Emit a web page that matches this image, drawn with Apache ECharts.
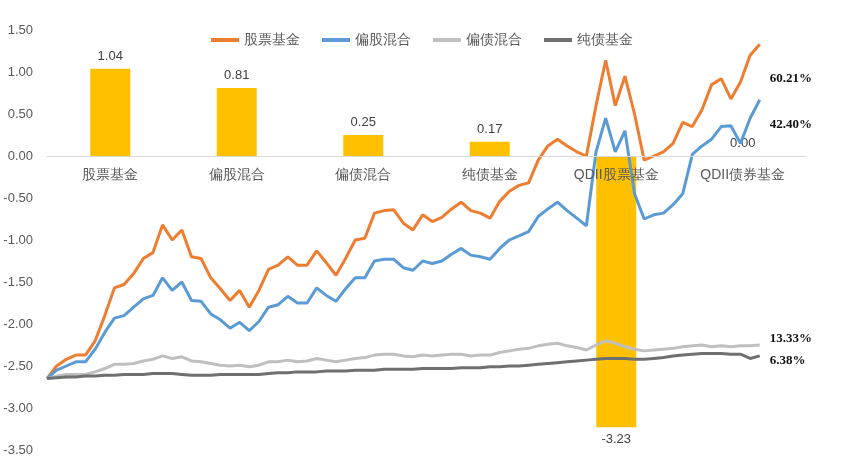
<!DOCTYPE html>
<html>
<head>
<meta charset="UTF-8">
<script src="https://cdn.jsdelivr.net/npm/echarts@6/dist/echarts.min.js"></script>
</head>
<body style="margin:0">
<div id="main" style="width:844px;height:474px;"></div>
<script>
var categories = ['股票基金', '偏股混合', '偏债混合', '纯债基金', 'QDII股票基金', 'QDII债券基金'];
var barValues = [1.04, 0.81, 0.25, 0.17, -3.23, 0.00];

var lineNames = ['股票基金', '偏股混合', '偏债混合', '纯债基金'];
var endLabels = ['60.21%', '42.40%', '13.33%', '6.38%'];
var stock = [-2.65,-2.5,-2.42,-2.37,-2.37,-2.2,-1.9,-1.57,-1.53,-1.4,
  -1.22,-1.15,-0.82,-1.0,-0.88,-1.2,-1.22,-1.45,-1.58,-1.72,
  -1.6,-1.8,-1.6,-1.35,-1.3,-1.2,-1.3,-1.3,-1.13,-1.27,
  -1.42,-1.22,-1.0,-0.98,-0.68,-0.65,-0.64,-0.8,-0.88,-0.7,
  -0.78,-0.73,-0.63,-0.55,-0.65,-0.68,-0.74,-0.54,-0.42,-0.35,
  -0.32,-0.05,0.12,0.2,0.12,0.05,0.0,0.6,1.14,0.6,
  0.95,0.5,-0.05,0.0,0.05,0.15,0.4,0.35,0.55,0.85,
  0.92,0.68,0.88,1.2,1.33];
var equityMix = [-2.65,-2.55,-2.5,-2.45,-2.45,-2.3,-2.1,-1.93,-1.9,-1.8,
  -1.7,-1.66,-1.45,-1.6,-1.5,-1.72,-1.73,-1.88,-1.95,-2.05,
  -1.98,-2.08,-1.97,-1.8,-1.77,-1.67,-1.75,-1.75,-1.57,-1.66,
  -1.73,-1.58,-1.45,-1.45,-1.25,-1.23,-1.23,-1.33,-1.36,-1.25,
  -1.28,-1.25,-1.17,-1.1,-1.18,-1.2,-1.23,-1.1,-1.0,-0.95,
  -0.9,-0.72,-0.63,-0.55,-0.65,-0.74,-0.83,0.05,0.45,0.05,
  0.3,-0.45,-0.75,-0.7,-0.68,-0.58,-0.45,0.02,0.12,0.2,
  0.35,0.36,0.15,0.45,0.67];
var bondMix = [-2.65,-2.62,-2.6,-2.6,-2.6,-2.57,-2.53,-2.48,-2.48,-2.47,
  -2.44,-2.42,-2.38,-2.41,-2.39,-2.44,-2.45,-2.47,-2.49,-2.5,
  -2.49,-2.51,-2.49,-2.45,-2.45,-2.43,-2.45,-2.44,-2.41,-2.43,
  -2.45,-2.43,-2.41,-2.4,-2.37,-2.36,-2.36,-2.38,-2.39,-2.37,
  -2.38,-2.37,-2.36,-2.36,-2.38,-2.37,-2.37,-2.34,-2.32,-2.3,
  -2.29,-2.26,-2.24,-2.23,-2.26,-2.28,-2.31,-2.25,-2.2,-2.23,
  -2.27,-2.3,-2.32,-2.31,-2.3,-2.29,-2.27,-2.26,-2.25,-2.27,
  -2.26,-2.27,-2.26,-2.26,-2.25];
var pureBond = [-2.65,-2.64,-2.63,-2.63,-2.62,-2.62,-2.61,-2.61,-2.6,-2.6,
  -2.6,-2.59,-2.59,-2.59,-2.6,-2.61,-2.61,-2.61,-2.6,-2.6,
  -2.6,-2.6,-2.6,-2.59,-2.58,-2.58,-2.57,-2.57,-2.57,-2.56,
  -2.56,-2.56,-2.55,-2.55,-2.55,-2.54,-2.54,-2.54,-2.54,-2.53,
  -2.53,-2.53,-2.53,-2.52,-2.52,-2.52,-2.51,-2.51,-2.5,-2.5,
  -2.49,-2.48,-2.47,-2.46,-2.45,-2.44,-2.43,-2.42,-2.41,-2.41,
  -2.41,-2.42,-2.42,-2.41,-2.4,-2.38,-2.37,-2.36,-2.35,-2.35,
  -2.35,-2.36,-2.36,-2.41,-2.38];

var lineData = [stock, equityMix, bondMix, pureBond];
var lineColors = ['#ED7D31', '#5B9BD5', '#BFBFBF', '#6F6F6F'];
var labelOffsets = [[0, 34], [0, 25], [0, -6], [0, 5]];

var myChart = echarts.init(document.getElementById('main'));

var series = [{
    type: 'bar',
    xAxisIndex: 0,
    data: barValues.map(function (v) {
        return { value: v, label: { position: v < 0 ? 'bottom' : 'top' } };
    }),
    barWidth: 40,
    itemStyle: { color: '#FFC000' },
    label: {
        show: true,
        color: '#404040',
        fontSize: 13,
        distance: 6,
        formatter: function (p) { return p.value.toFixed(2); }
    },
    z: 1
}];
for (var k = 0; k < lineData.length; k++) {
    series.push({
        name: lineNames[k],
        type: 'line',
        xAxisIndex: 1,
        data: lineData[k].map(function (v, i) { return [i, v]; }),
        showSymbol: false,
        lineStyle: { width: 3, color: lineColors[k] },
        itemStyle: { color: lineColors[k] },
        endLabel: {
            show: true,
            formatter: endLabels[k],
            distance: 10,
            offset: labelOffsets[k],
            fontFamily: 'Liberation Serif',
            fontWeight: 'bold',
            fontSize: 13,
            color: '#111'
        },
        z: 3
    });
}

// 零线位置：3.5 / 5 * 绘图区高度 420 = 294
var option = {
    animation: false,
    legend: {
        data: lineNames,
        top: 28,
        left: 'center',
        itemWidth: 28,
        itemHeight: 4,
        itemGap: 22,
        icon: 'rect',
        textStyle: { color: '#595959', fontSize: 14 }
    },
    grid: { left: 47, right: 38, top: 30, bottom: 24 },
    xAxis: [{
        type: 'category',
        data: categories,
        position: 'bottom',
        offset: -294,
        z: 5,
        axisLine: { onZero: false, lineStyle: { color: '#D9D9D9' } },
        axisTick: { show: false },
        axisLabel: { color: '#595959', fontSize: 14, margin: 12 }
    }, {
        type: 'value',
        min: 0,
        max: 78.8,
        show: false
    }],
    yAxis: {
        type: 'value',
        min: -3.5,
        max: 1.5,
        interval: 0.5,
        axisLine: { show: false },
        axisTick: { show: false },
        splitLine: { show: false },
        axisLabel: {
            color: '#595959',
            fontSize: 13,
            margin: 14,
            formatter: function (v) { return v.toFixed(2); }
        }
    },
    series: series
};
myChart.setOption(option);
</script>
</body>
</html>
